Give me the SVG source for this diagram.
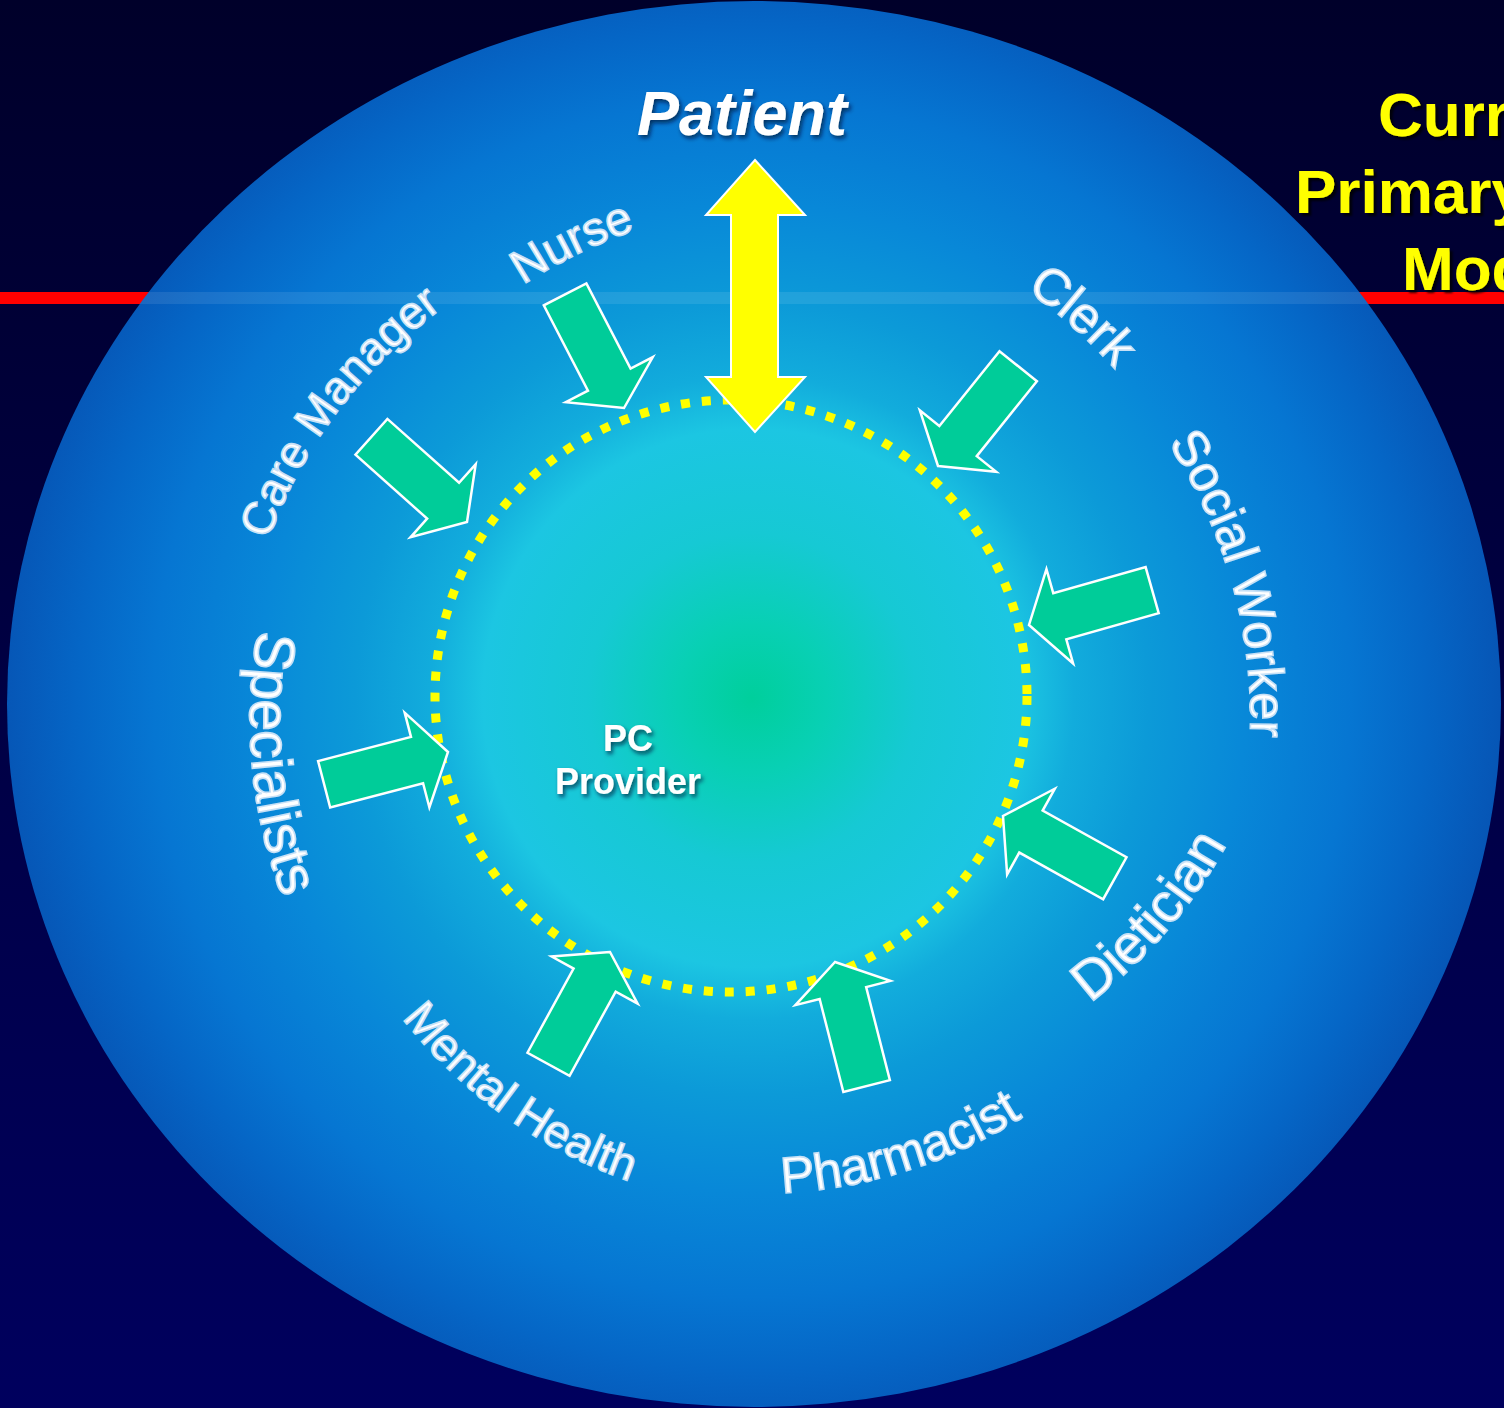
<svg xmlns="http://www.w3.org/2000/svg" width="1504" height="1408" viewBox="0 0 1504 1408">
<defs>
<linearGradient id="bg" x1="0" y1="0" x2="0" y2="1">
<stop offset="0" stop-color="#00002a"/>
<stop offset="1" stop-color="#00005e"/>
</linearGradient>
<radialGradient id="disc" gradientUnits="userSpaceOnUse" cx="752" cy="698" r="748">
<stop offset="0" stop-color="#00cf9c"/>
<stop offset="0.1" stop-color="#08d0b4"/>
<stop offset="0.22" stop-color="#16c9d4"/>
<stop offset="0.36" stop-color="#1cc6e2"/>
<stop offset="0.43" stop-color="#12acdc"/>
<stop offset="0.53" stop-color="#0c9ad8"/>
<stop offset="0.66" stop-color="#0888d8"/>
<stop offset="0.8" stop-color="#0676d2"/>
<stop offset="0.9" stop-color="#0566c6"/>
<stop offset="1" stop-color="#0656b6"/>
</radialGradient>
<clipPath id="discClip"><ellipse cx="754" cy="704" rx="747" ry="703"/></clipPath>
<filter id="shadow" x="-20%" y="-30%" width="140%" height="160%">
<feDropShadow dx="2" dy="3" stdDeviation="2" flood-color="#001030" flood-opacity="0.7"/>
</filter>
<filter id="tshadow" x="-10%" y="-20%" width="130%" height="150%">
<feDropShadow dx="3" dy="3" stdDeviation="0.8" flood-color="#000000" flood-opacity="0.8"/>
</filter>
<path id="pCare" d="M268,540 A500,500 0 0 1 480.4,282.8"/>
<path id="pNurse" d="M523,285 A500,500 0 0 1 694,213.8"/>
<path id="pClerk" d="M1026,290 A500,500 0 0 1 1153,417.9"/>
<path id="pSocial" d="M1168,443 A500,500 0 0 1 1245.3,789.1"/>
<path id="pSpec" d="M258,630 A500,500 0 0 0 304.4,946.3"/>
<path id="pMental" d="M402,1018 A500,500 0 0 0 674.8,1195"/>
<path id="pPharm" d="M782,1193 A500,500 0 0 0 1071.7,1082.2"/>
<path id="pDiet" d="M1090,1003 A500,500 0 0 0 1257.7,775.6"/>
<polygon id="garrow" points="0,0 -32,-49 -32,-24 -128,-24 -128,24 -32,24 -32,49"/>
</defs>
<style>
.lbl { font-family: "Liberation Sans", Arial, sans-serif; fill: #ffffff; stroke: #c6e0f6; stroke-width: 1.6; }
.ga { fill: #00cc99; stroke: #ffffff; stroke-width: 2.5; stroke-linejoin: miter; }
.title { font-family: "Liberation Sans", Arial, sans-serif; font-weight: bold; font-size: 62px; fill: #ffff00; }
</style>
<rect x="0" y="0" width="1504" height="1408" fill="url(#bg)"/>
<rect x="0" y="292" width="1504" height="12" fill="#ff0000"/>
<ellipse cx="754" cy="704" rx="747" ry="703" fill="url(#disc)"/>
<rect x="0" y="292" width="1504" height="12" fill="#ffffff" opacity="0.09" clip-path="url(#discClip)"/>

<g id="title" filter="url(#tshadow)">
<text class="title" x="1378" y="136">Curr</text>
<text class="title" x="1295" y="213">Primary</text>
<text class="title" x="1402" y="290">Mod</text>
</g>

<g id="provider-circle">
<circle cx="731" cy="696" r="296" fill="none" stroke="#ffff00" stroke-width="9" stroke-dasharray="9 12"/>
<text x="628" y="751" text-anchor="middle" font-family="Liberation Sans, Arial, sans-serif" font-weight="bold" font-size="36" fill="#ffffff" filter="url(#shadow)">PC</text>
<text x="628" y="794" text-anchor="middle" font-family="Liberation Sans, Arial, sans-serif" font-weight="bold" font-size="36" fill="#ffffff" filter="url(#shadow)">Provider</text>
</g>

<g id="patient">
<text x="742" y="135" text-anchor="middle" font-family="Liberation Sans, Arial, sans-serif" font-weight="bold" font-style="italic" font-size="63" fill="#ffffff" filter="url(#shadow)">Patient</text>
</g>

<g id="connectors">
<polygon id="patient-arrow" points="755,160 805,215 778,215 778,377 805,377 755,432 706,377 731,377 731,215 706,215" fill="#ffff00" stroke="#ffffff" stroke-width="2"/>
<use href="#garrow" class="ga" transform="translate(467,522) rotate(41.7)"/>
<use href="#garrow" class="ga" transform="translate(624,408) rotate(62.6)"/>
<use href="#garrow" class="ga" transform="translate(938,466) rotate(128.8)"/>
<use href="#garrow" class="ga" transform="translate(1029,625) rotate(164.2)"/>
<use href="#garrow" class="ga" transform="translate(1003,816) rotate(209.1)"/>
<use href="#garrow" class="ga" transform="translate(835,962) rotate(-104.3)"/>
<use href="#garrow" class="ga" transform="translate(610,952) rotate(-61.3)"/>
<use href="#garrow" class="ga" transform="translate(448,752) rotate(-14.6)"/>
</g>

<g id="care-manager"><text class="lbl" font-size="46"><textPath href="#pCare">Care Manager</textPath></text></g>
<g id="nurse"><text class="lbl" font-size="47"><textPath href="#pNurse">Nurse</textPath></text></g>
<g id="clerk"><text class="lbl" font-size="51"><textPath href="#pClerk">Clerk</textPath></text></g>
<g id="social-worker"><text class="lbl" font-size="50"><textPath href="#pSocial">Social Worker</textPath></text></g>
<g id="specialists"><text class="lbl" font-size="57"><textPath href="#pSpec">Specialists</textPath></text></g>
<g id="mental-health"><text class="lbl" font-size="46"><textPath href="#pMental">Mental Health</textPath></text></g>
<g id="pharmacist"><text class="lbl" font-size="51"><textPath href="#pPharm">Pharmacist</textPath></text></g>
<g id="dietician"><text class="lbl" font-size="55"><textPath href="#pDiet">Dietician</textPath></text></g>
</svg>
